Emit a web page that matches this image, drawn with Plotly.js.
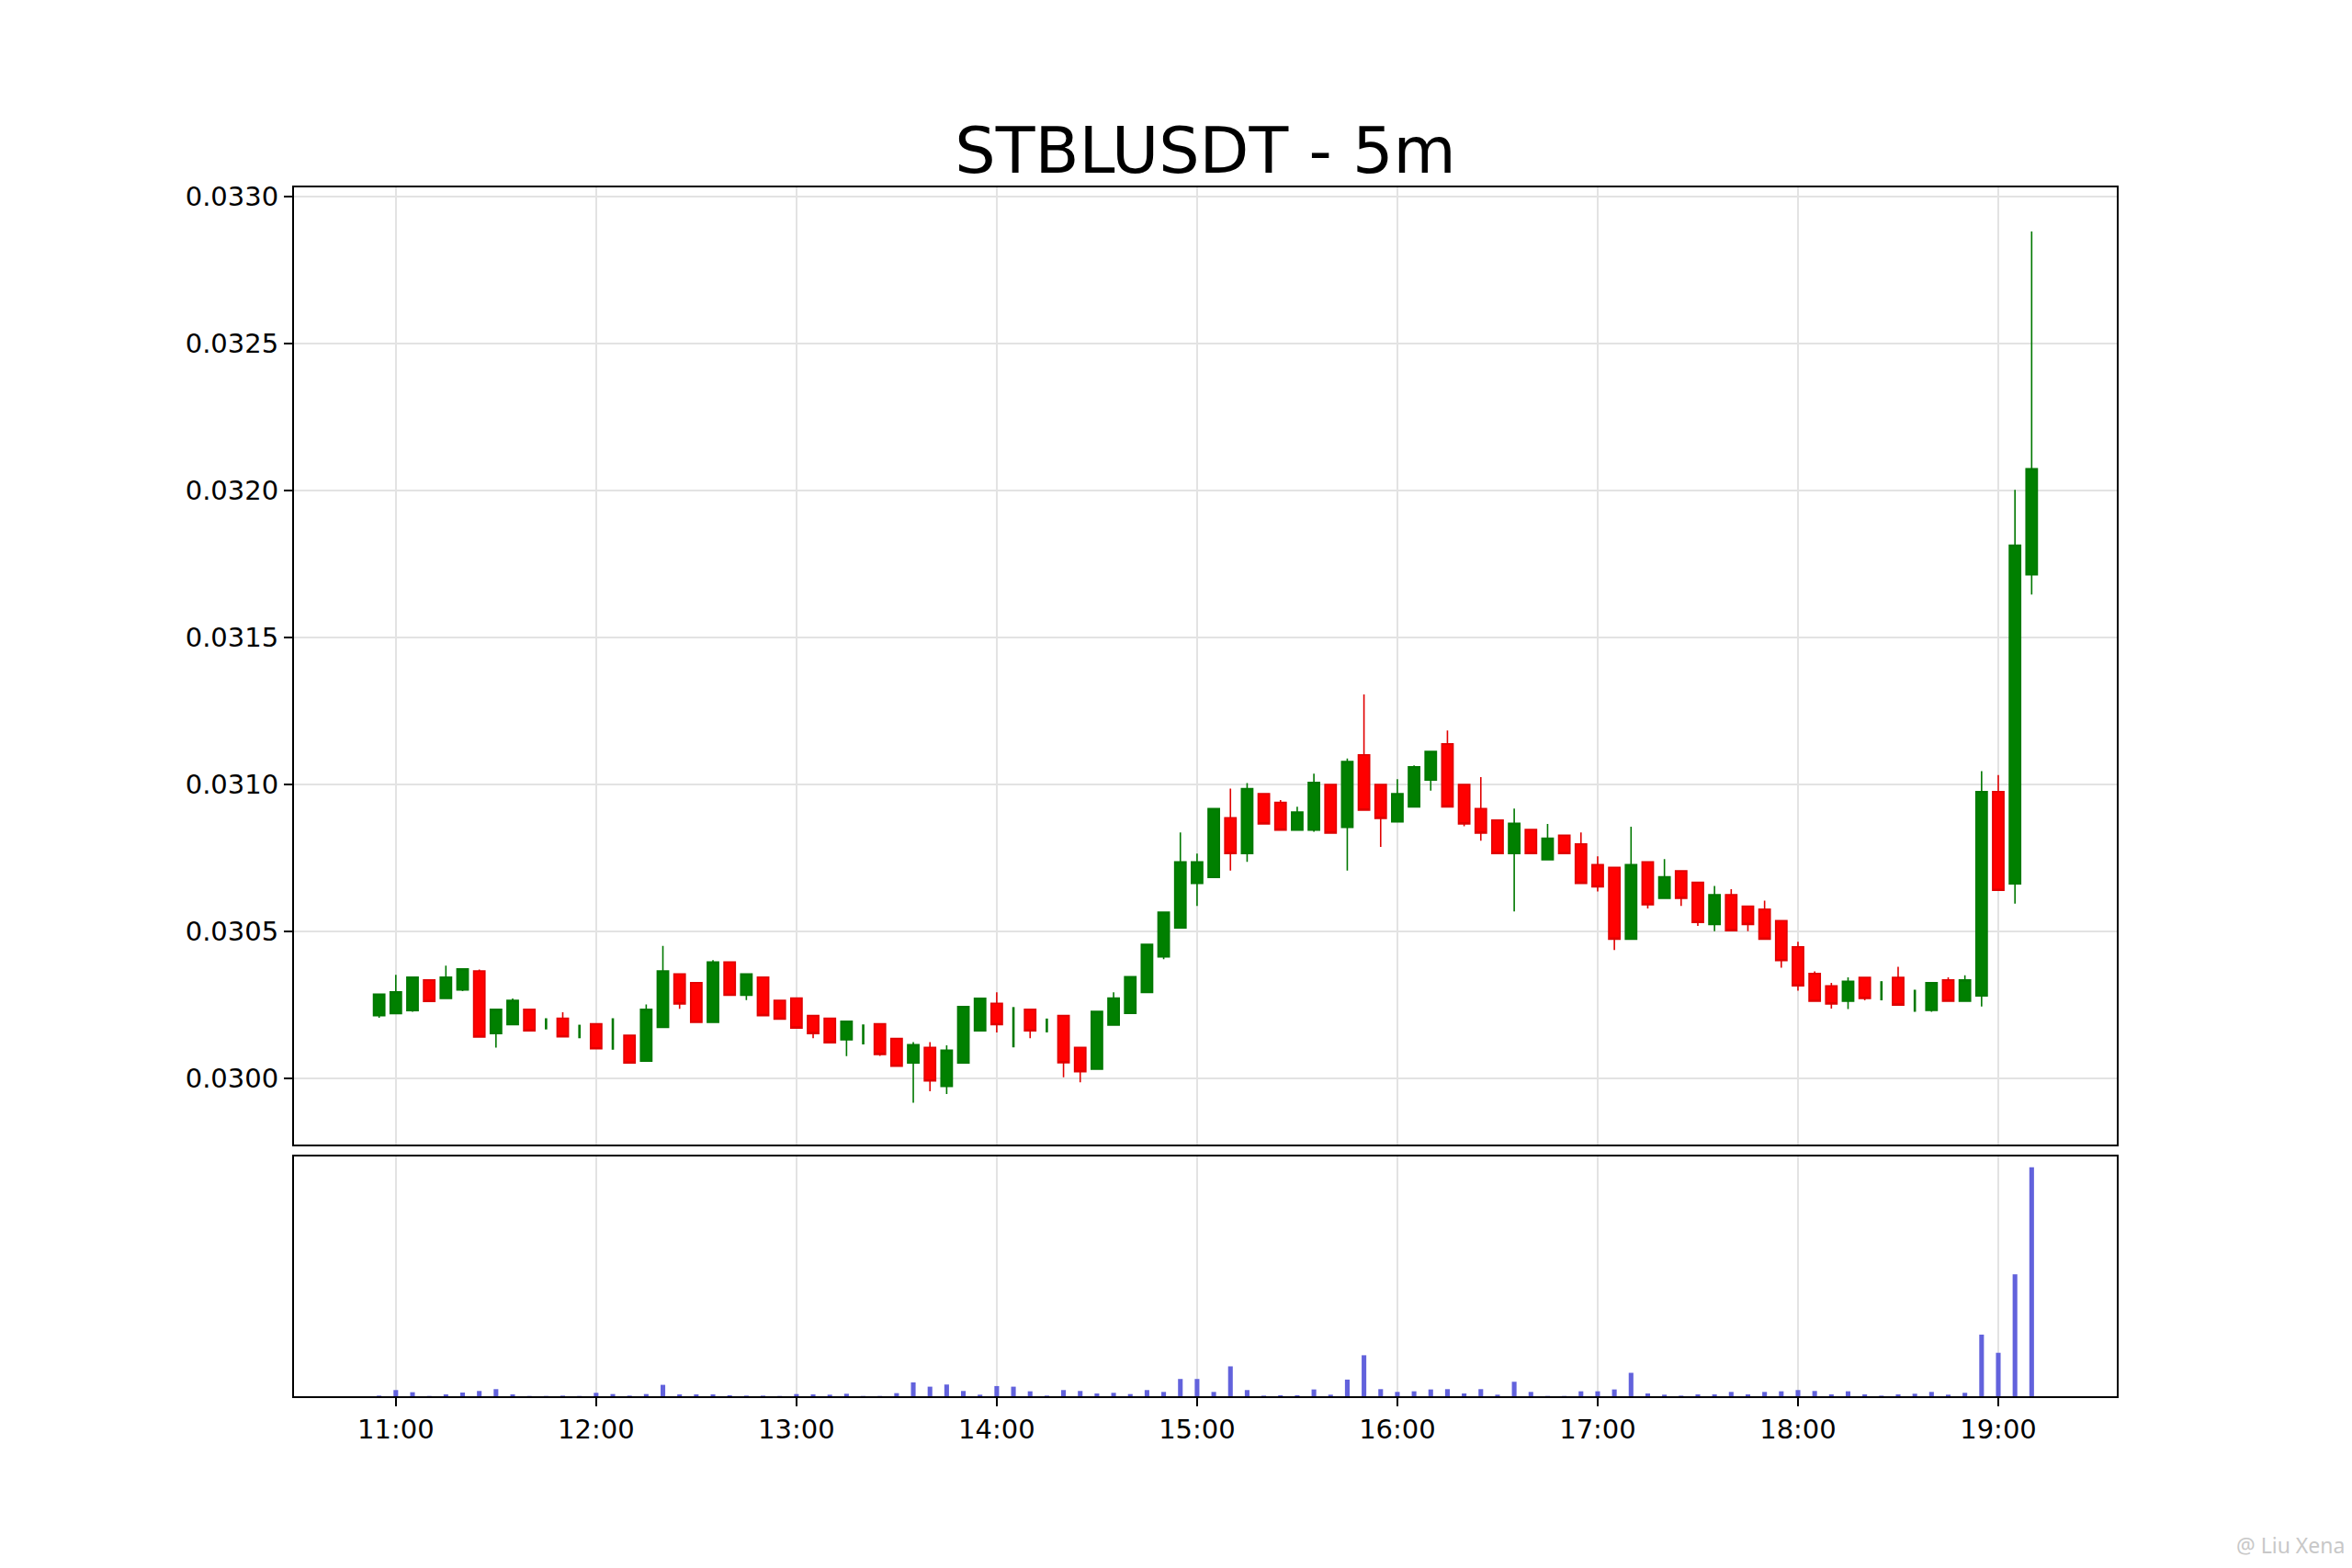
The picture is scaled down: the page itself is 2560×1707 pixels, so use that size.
<!DOCTYPE html>
<html>
<head>
<meta charset="utf-8">
<script src="https://cdn.plot.ly/plotly-3.0.1.min.js"></script>
<style>html,body{margin:0;padding:0;background:#fff;}#chart{width:2560px;height:1707px;}</style>
</head>
<body>
<div id="chart"></div>
<script>
// ---- Data ----
const dayDate = '2024-06-10';
const firstCandle = '10:55';
const intervalMinutes = 5;

const openPrices = [
0.030214,0.030221,0.030231,0.030335,0.030272,0.030301,0.030366,0.030153,0.030183,0.030235,
0.030186,0.030205,0.030160,0.030186,0.030150,0.030147,0.030059,0.030174,0.030356,0.030326,
0.030191,0.030396,0.030283,0.030345,0.030266,0.030274,0.030214,0.030205,0.030132,0.030150,
0.030186,0.030136,0.030053,0.030106,0.029973,0.030053,0.030162,0.030256,0.030175,0.030235,
0.030180,0.030214,0.030106,0.030032,0.030182,0.030222,0.030293,0.030414,0.030512,0.030664,
0.030684,0.030887,0.030765,0.030969,0.030939,0.030845,0.030845,0.031000,0.030854,0.031101,
0.031000,0.030873,0.030924,0.031015,0.031138,0.031000,0.030918,0.030879,0.030765,0.030847,
0.030744,0.030827,0.030798,0.030727,0.030718,0.030474,0.030737,0.030613,0.030706,0.030667,
0.030524,0.030625,0.030586,0.030576,0.030537,0.030448,0.030357,0.030315,0.030263,0.030344,
0.030300,0.030344,0.030265,0.030232,0.030335,0.030263,0.030281,0.030976,0.030662,0.031713];

const highPrices = [
0.030287,0.030353,0.030345,0.030335,0.030384,0.030373,0.030371,0.030235,0.030272,0.030235,
0.030205,0.030225,0.030183,0.030186,0.030205,0.030147,0.030252,0.030451,0.030356,0.030326,
0.030403,0.030396,0.030356,0.030345,0.030266,0.030274,0.030214,0.030205,0.030195,0.030184,
0.030186,0.030136,0.030124,0.030124,0.030113,0.030245,0.030273,0.030293,0.030243,0.030235,
0.030204,0.030214,0.030106,0.030228,0.030293,0.030346,0.030456,0.030566,0.030837,0.030765,
0.030918,0.030986,0.031005,0.030969,0.030947,0.030924,0.031037,0.031000,0.031088,0.031306,
0.031000,0.031018,0.031065,0.031112,0.031184,0.031000,0.031025,0.030879,0.030918,0.030847,
0.030866,0.030827,0.030837,0.030756,0.030718,0.030856,0.030737,0.030746,0.030706,0.030667,
0.030655,0.030644,0.030586,0.030605,0.030537,0.030465,0.030364,0.030325,0.030344,0.030344,
0.030331,0.030380,0.030302,0.030326,0.030344,0.030351,0.031045,0.031032,0.032002,0.032881];

const lowPrices = [
0.030207,0.030221,0.030227,0.030262,0.030272,0.030297,0.030141,0.030105,0.030183,0.030162,
0.030167,0.030142,0.030137,0.030099,0.030098,0.030053,0.030059,0.030174,0.030237,0.030191,
0.030191,0.030283,0.030267,0.030214,0.030202,0.030172,0.030137,0.030122,0.030076,0.030116,
0.030077,0.030042,0.029918,0.029957,0.029947,0.030053,0.030162,0.030157,0.030106,0.030137,
0.030157,0.030004,0.029987,0.030032,0.030182,0.030222,0.030293,0.030406,0.030512,0.030587,
0.030684,0.030707,0.030737,0.030866,0.030845,0.030845,0.030839,0.030835,0.030707,0.030913,
0.030788,0.030873,0.030924,0.030979,0.030924,0.030858,0.030809,0.030765,0.030568,0.030765,
0.030744,0.030765,0.030664,0.030636,0.030437,0.030474,0.030578,0.030613,0.030587,0.030519,
0.030501,0.030503,0.030501,0.030474,0.030377,0.030299,0.030263,0.030238,0.030236,0.030266,
0.030266,0.030250,0.030227,0.030227,0.030263,0.030263,0.030245,0.030640,0.030595,0.031646];

const closePrices = [
0.030287,0.030295,0.030345,0.030262,0.030345,0.030373,0.030141,0.030235,0.030266,0.030162,
0.030187,0.030142,0.030161,0.030101,0.030151,0.030053,0.030235,0.030366,0.030254,0.030191,
0.030396,0.030283,0.030356,0.030214,0.030202,0.030172,0.030153,0.030122,0.030195,0.030151,
0.030082,0.030042,0.030115,0.029992,0.030096,0.030245,0.030273,0.030183,0.030176,0.030162,
0.030181,0.030054,0.030023,0.030228,0.030274,0.030346,0.030456,0.030566,0.030737,0.030737,
0.030918,0.030765,0.030986,0.030866,0.030845,0.030906,0.031007,0.030835,0.031078,0.030913,
0.030885,0.030969,0.031060,0.031112,0.030924,0.030866,0.030835,0.030765,0.030868,0.030765,
0.030817,0.030765,0.030664,0.030652,0.030474,0.030727,0.030591,0.030686,0.030613,0.030531,
0.030625,0.030503,0.030524,0.030474,0.030401,0.030315,0.030263,0.030254,0.030331,0.030272,
0.030301,0.030250,0.030266,0.030326,0.030263,0.030335,0.030976,0.030640,0.031814,0.032074];

const volumes = [
2000,20000,13000,1000,6000,12000,17000,23000,6000,1000,
1000,2000,1000,11000,7000,2000,7000,37000,6000,6000,
6000,3000,2000,2000,1000,7000,6000,5000,8000,1000,
1000,10000,45000,31000,38000,17000,5000,33000,31000,16000,
2000,20000,17000,9000,11000,7000,20000,14000,56000,56000,
14000,97000,20000,2000,3000,3000,22000,5000,54000,133000,
23000,14000,16000,22000,23000,9000,23000,5000,47000,14000,
1000,1000,16000,16000,22000,76000,9000,5000,2000,6000,
6000,14000,6000,14000,16000,20000,17000,6000,16000,6000,
2000,6000,8000,14000,5000,11000,200000,141000,396000,743000];

const priceTicks = [0.0300, 0.0305, 0.0310, 0.0315, 0.0320, 0.0325, 0.0330];
const chartTitle = 'STBLUSDT - 5m';
const watermark = '@ Liu Xena';

// ---- Build time categories ----
function pad(n){ return (n < 10 ? '0' : '') + n; }
const startMin = parseInt(firstCandle.split(':')[0]) * 60 + parseInt(firstCandle.split(':')[1]);
const times = openPrices.map((_, i) => {
  const m = startMin + i * intervalMinutes;
  return dayDate + ' ' + pad(Math.floor(m / 60)) + ':' + pad(m % 60);
});

// candles whose open and close are (almost) equal are drawn as a plain high-low line
const isDoji = openPrices.map((o, i) => Math.abs(closePrices[i] - o) < 1.5e-6);
const pick = (arr, want) => arr.map((v, i) => (isDoji[i] === want ? v : null));

const FONT = 'DejaVu Sans, Liberation Sans, sans-serif';
const GRID = '#e3e3e3';
const GREEN = '#008000';
const RED = '#ff0000';

const candle = {
  type: 'candlestick',
  x: times,
  open: pick(openPrices, false), high: pick(highPrices, false),
  low: pick(lowPrices, false), close: pick(closePrices, false),
  xaxis: 'x', yaxis: 'y',
  increasing: {line: {color: '#007800', width: 1.6}, fillcolor: GREEN},
  decreasing: {line: {color: '#e00000', width: 1.6}, fillcolor: RED},
  whiskerwidth: 0,
  hoverinfo: 'skip'
};

const dojiLines = {
  type: 'ohlc',
  x: times,
  open: pick(openPrices, true), high: pick(highPrices, true),
  low: pick(lowPrices, true), close: pick(closePrices, true),
  xaxis: 'x', yaxis: 'y',
  tickwidth: 0,
  increasing: {line: {color: '#007800', width: 2.6}},
  decreasing: {line: {color: '#007800', width: 2.6}},
  hoverinfo: 'skip'
};

const volBars = {
  type: 'bar',
  x: times, y: volumes,
  xaxis: 'x2', yaxis: 'y2',
  width: 84000,
  marker: {color: '#6262dc', line: {width: 0}},
  hoverinfo: 'skip'
};

const xRange = [dayDate + ' 10:29:30', dayDate + ' 19:35:30'];

const layout = {
  width: 2560, height: 1707,
  paper_bgcolor: '#ffffff', plot_bgcolor: '#ffffff',
  margin: {l: 320, r: 256, t: 204, b: 187, pad: 0},
  showlegend: false,
  hovermode: false,
  boxgap: 0.04,
  title: {
    text: chartTitle,
    font: {family: FONT, size: 70, color: '#000'},
    x: 0.5, xref: 'paper', xanchor: 'center',
    y: 1 - 163 / 1707, yref: 'container', yanchor: 'middle'
  },
  xaxis: {
    type: 'date', range: xRange, anchor: 'y',
    matches: 'x2',
    showticklabels: false,
    dtick: 3600000, tick0: dayDate + ' 11:00',
    ticks: '', showgrid: true, gridcolor: GRID, gridwidth: 1.6,
    showline: true, linecolor: '#000', linewidth: 2, mirror: true,
    rangeslider: {visible: false},
    zeroline: false, fixedrange: true
  },
  yaxis: {
    domain: [0.2082, 1],
    range: [0.0297755, 0.0330306],
    tickvals: priceTicks, tickformat: '.4f',
    ticks: 'outside', ticklen: 9, tickwidth: 1.6, tickcolor: '#000',
    tickfont: {family: FONT, size: 29, color: '#000'},
    showgrid: true, gridcolor: GRID, gridwidth: 1.6,
    showline: true, linecolor: '#000', linewidth: 2, mirror: true,
    zeroline: false, fixedrange: true
  },
  xaxis2: {
    type: 'date', range: xRange, anchor: 'y2',
    dtick: 3600000, tick0: dayDate + ' 11:00', tickformat: '%H:%M',
    ticks: 'outside', ticklen: 9, tickwidth: 1.6, tickcolor: '#000',
    tickfont: {family: FONT, size: 29, color: '#000'},
    showgrid: true, gridcolor: GRID, gridwidth: 1.6,
    showline: true, linecolor: '#000', linewidth: 2, mirror: true,
    zeroline: false, fixedrange: true
  },
  yaxis2: {
    domain: [0, 0.1983],
    range: [0, 778000],
    showticklabels: false, ticks: '',
    showgrid: false,
    showline: true, linecolor: '#000', linewidth: 2, mirror: true,
    zeroline: false, fixedrange: true
  },
  annotations: [{
    text: watermark, xref: 'paper', yref: 'paper',
    x: (2554 - 320) / 1984, y: (1707 - 187 - 1682) / 1316,
    xanchor: 'right', yanchor: 'middle', showarrow: false,
    font: {family: 'Noto Sans, DejaVu Sans, sans-serif', size: 23, color: '#c8c8c8'}
  }]
};

Plotly.newPlot('chart', [candle, dojiLines, volBars], layout, {staticPlot: true, displayModeBar: false});
</script>
</body>
</html>
